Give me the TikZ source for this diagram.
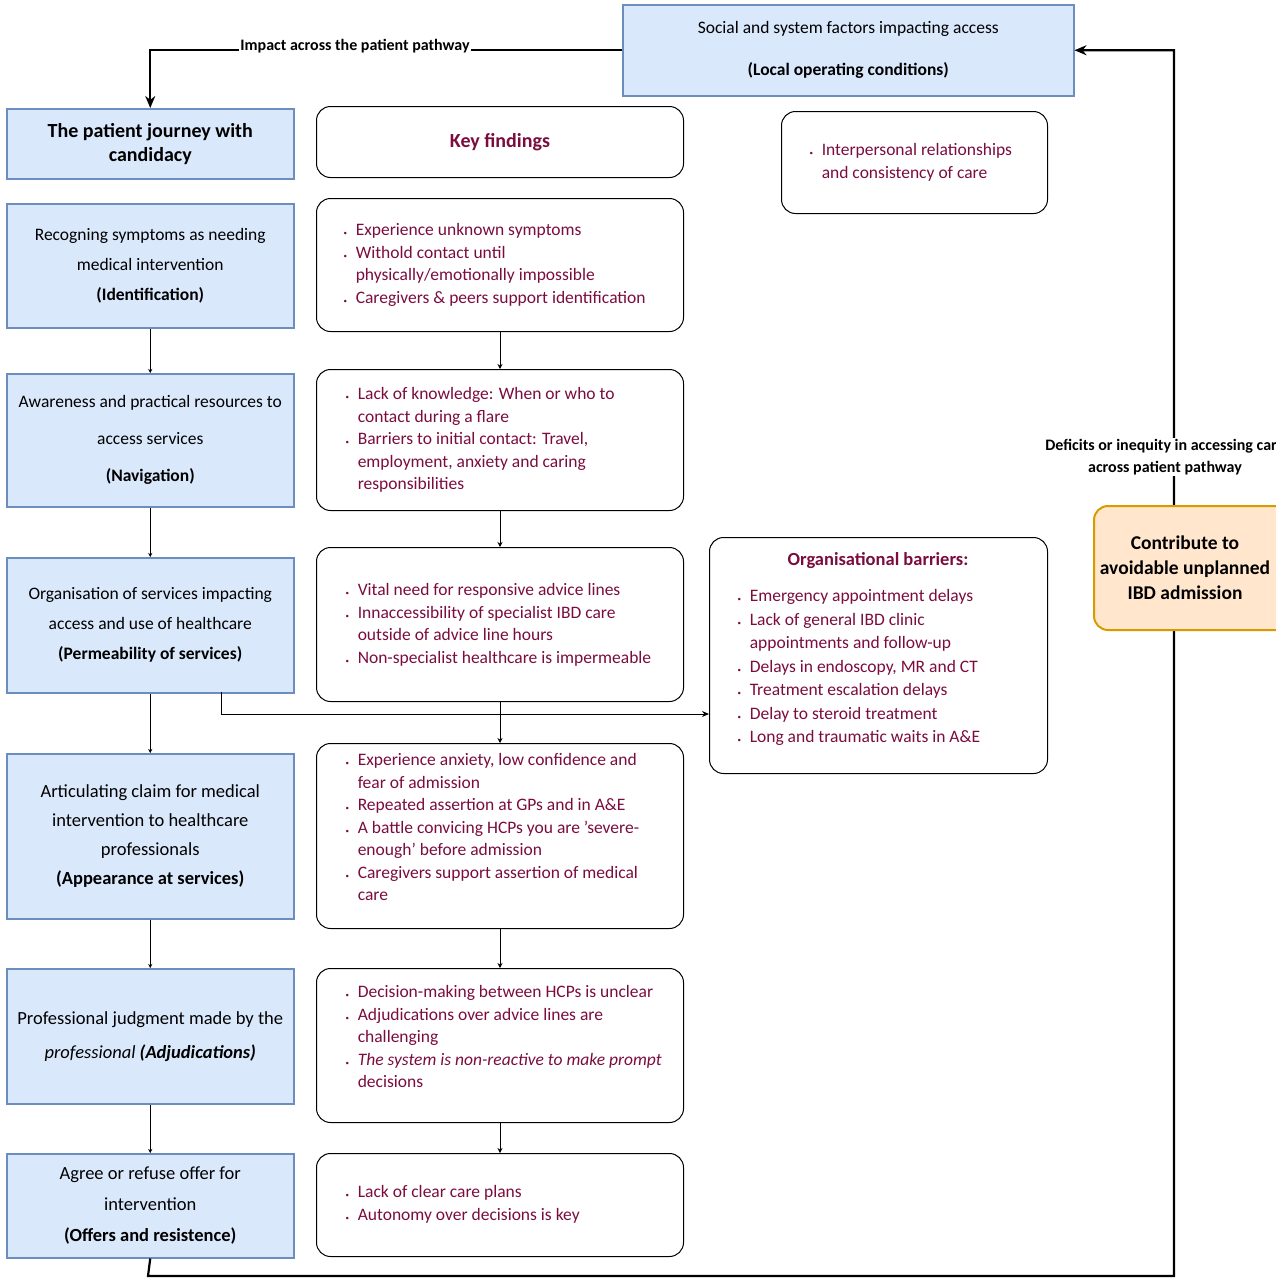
\documentclass[tikz,border=0pt]{standalone}
\usepackage{fontspec}
\setmainfont{Carlito}
\usetikzlibrary{arrows.meta}
\definecolor{bfill}{HTML}{DAE8FC}
\definecolor{bdraw}{HTML}{6C8EBF}
\definecolor{ofill}{HTML}{FFE6CC}
\definecolor{odraw}{HTML}{D79B00}
\definecolor{red1}{HTML}{7A0C3E}
\newcommand{\bu}{{\scriptsize\textbullet}\,\,\,}
\newcommand{\bs}{\hphantom{\bu}}
\tikzset{
 blue/.style={draw=bdraw,fill=bfill,line width=1.5pt,align=center,font=\fontsize{17.5}{30}\selectfont},
 find/.style={draw,rounded corners=14pt,line width=1pt,text=red1},
 ftxt/.style={text=red1,font=\fontsize{17.5}{22.5}\selectfont,anchor=north west,align=left},
 conn/.style={line width=1pt,-{Stealth[length=7pt,width=6pt]}},
 big/.style={line width=2.2pt,-{Stealth[length=12pt,width=10pt]}},
}
\newcommand{\bx}[5]{\node[#1,minimum width=#4-#2,minimum height=#5-#3,anchor=north west] at (#2,#3)}
\begin{document}
\begin{tikzpicture}[x=1pt,y=-1pt]
\useasboundingbox (0,0) rectangle (1276,1280);
\begin{scope}
\clip (0,0) rectangle (1276,1280);
\bx{blue,font=\fontsize{17.5}{42}\selectfont}{622}{4}{1073}{95} (top) {Social and system factors impacting access\\\textbf{(Local operating conditions)}};
\bx{blue,font=\fontsize{20}{24}\selectfont\bfseries}{6}{108}{293}{178} (pj) {The patient journey with\\candidacy};
\bx{blue}{6}{203}{293}{327} (b1) {Recogning symptoms as needing\\medical intervention\\\textbf{(Identification)}};
\bx{blue,font=\fontsize{17.5}{37}\selectfont}{6}{373}{293}{506} (b2) {Awareness and practical resources to\\access services\\\textbf{(Navigation)}};
\bx{blue}{6}{557}{293}{692} (b3) {Organisation of services impacting\\access and use of healthcare\\\textbf{(Permeability of services)}};
\bx{blue,font=\fontsize{18.5}{29}\selectfont}{6}{753}{293}{918} (b4) {Articulating claim for medical\\intervention to healthcare\\professionals\\\textbf{(Appearance at services)}};
\bx{blue,font=\fontsize{18.5}{34}\selectfont}{6}{968}{293}{1103} (b5) {Professional judgment made by the\\\textit{professional} \textbf{\textit{(Adjudications)}}};
\bx{blue,font=\fontsize{18.5}{31}\selectfont}{6}{1153}{293}{1257} (b6) {Agree or refuse offer for\\intervention\\\textbf{(Offers and resistence)}};

\bx{find,font=\fontsize{20}{24}\selectfont\bfseries}{316}{106}{683}{177} (kf) {Key findings};
\bx{find}{316}{198}{683}{331} (f1) {};
\node[ftxt] at (340,220) {\bu Experience unknown symptoms\\\bu Withold contact until\\\bs physically/emotionally impossible\\\bu Caregivers \& peers support identification};
\bx{find}{316}{369}{683}{510} (f2) {};
\node[ftxt] at (342,384) {\bu Lack of knowledge: When or who to\\\bs contact during a flare\\\bu Barriers to initial contact: Travel,\\\bs employment, anxiety and caring\\\bs responsibilities};
\bx{find}{316}{547}{683}{701} (f3) {};
\node[ftxt] at (342,580) {\bu Vital need for responsive advice lines\\\bu Innaccessibility of specialist IBD care\\\bs outside of advice line hours\\\bu Non-specialist healthcare is impermeable};
\bx{find}{316}{743}{683}{928} (f4) {};
\node[ftxt] at (342,750) {\bu Experience anxiety, low confidence and\\\bs fear of admission\\\bu Repeated assertion at GPs and in A\&E\\\bu A battle convicing HCPs you are 'severe-\\\bs enough' before admission\\\bu Caregivers support assertion of medical\\\bs care};
\bx{find}{316}{968}{683}{1122} (f5) {};
\node[ftxt] at (342,982) {\bu Decision-making between HCPs is unclear\\\bu Adjudications over advice lines are\\\bs challenging\\\bu \textit{The system is non-reactive to make prompt}\\\bs decisions};
\bx{find}{316}{1153}{683}{1256} (f6) {};
\node[ftxt] at (342,1182) {\bu Lack of clear care plans\\\bu Autonomy over decisions is key};

\bx{find}{781}{111}{1047}{213} (ip) {};
\node[ftxt] at (806,140) {\bu Interpersonal relationships\\\bs and consistency of care};
\bx{find}{709}{537}{1047}{773} (ob) {};
\node[text=red1,font=\fontsize{18.5}{22}\selectfont\bfseries] at (878,561) {Organisational barriers:};
\node[ftxt,font=\fontsize{17.5}{23.5}\selectfont] at (734,586) {\bu Emergency appointment delays\\\bu Lack of general IBD clinic\\\bs appointments and follow-up\\\bu Delays in endoscopy, MR and CT\\\bu Treatment escalation delays\\\bu Delay to steroid treatment\\\bu Long and traumatic waits in A\&E};

\foreach \a/\b in {b1/b2,b2/b3,b3/b4,b4/b5,b5/b6}{\draw[conn,line width=0.8pt,-{Stealth[length=4pt,width=4pt]}] (\a.south) -- (\b.north);}
\foreach \a/\b in {f1/f2,f2/f3,f3/f4,f4/f5,f5/f6}{\draw[conn,-{Stealth[length=5pt,width=5pt]}] (\a.south) -- (\b.north);}
\coordinate (tu) at (221,692);
\draw[conn] (tu) |- (ob.west |- 0,714);
\draw[big] (top.west) -| (pj.north);
\node[fill=white,inner sep=1pt,font=\fontsize{16}{18}\selectfont\bfseries] at (355,46) {Impact across the patient pathway};
\draw[big] (b6.south) -- (148,1276) -- (1174,1276) |- (top.east);
\node[fill=white,inner sep=1pt,font=\fontsize{16}{22}\selectfont\bfseries,align=center] at (1165,457) {Deficits or inequity in accessing care\\across patient pathway};

\bx{draw=odraw,fill=ofill,line width=2pt,rounded corners=14pt}{1093}{505}{1300}{629} (co) {};
\node[font=\fontsize{19.5}{25}\selectfont\bfseries,align=center] at (1185,568) {Contribute to\\avoidable unplanned\\IBD admission};
\end{scope}
\end{tikzpicture}
\end{document}
